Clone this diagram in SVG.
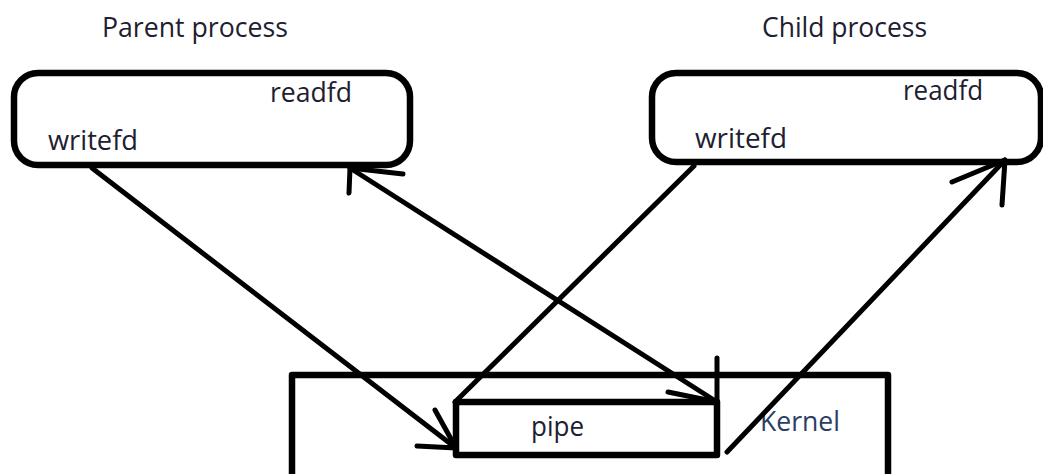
<svg xmlns="http://www.w3.org/2000/svg" width="1043" height="474" viewBox="0 0 1043 474">
  <style>
    .box { fill: none; stroke: #000; stroke-width: 6.5; stroke-linecap: round; stroke-linejoin: round; }
    .wire { fill: none; stroke: #000; stroke-width: 5; stroke-linecap: round; stroke-linejoin: round; }
    .lbl { font-family: "Open Sans", "Noto Sans", sans-serif; font-size: 27px; fill: #1d2030; }
    .kern { fill: #2b3f66; }
  </style>
  <rect width="1043" height="474" fill="#fff"/>

  <g id="title-parent">
    <text class="lbl" x="102" y="37" textLength="186" lengthAdjust="spacingAndGlyphs">Parent process</text>
  </g>
  <g id="title-child">
    <text class="lbl" x="762" y="37" textLength="165" lengthAdjust="spacingAndGlyphs">Child process</text>
  </g>

  <g id="parent">
    <rect class="box" x="14" y="73" width="396" height="92" rx="24"/>
    <text class="lbl" x="270" y="102" textLength="82" lengthAdjust="spacingAndGlyphs">readfd</text>
    <text class="lbl" x="48" y="150" textLength="90" lengthAdjust="spacingAndGlyphs">writefd</text>
  </g>

  <g id="child">
    <rect class="box" x="652" y="73" width="389" height="89" rx="24"/>
    <text class="lbl" x="903" y="100" textLength="80" lengthAdjust="spacingAndGlyphs">readfd</text>
    <text class="lbl" x="695" y="148" textLength="92" lengthAdjust="spacingAndGlyphs">writefd</text>
  </g>

  <g id="kernel">
    <rect class="box" x="292" y="375" width="596" height="112"/>
    <text class="lbl kern" x="760" y="431" textLength="80" lengthAdjust="spacingAndGlyphs">Kernel</text>
  </g>

  <g id="pipe">
    <rect class="box" x="456" y="402" width="261" height="53"/>
    <text class="lbl" x="531" y="436" textLength="53" lengthAdjust="spacingAndGlyphs">pipe</text>
  </g>

  <g id="connectors">
    <!-- parent writefd into the pipe -->
    <path class="wire" d="M92 168 L456 448"/>
    <path class="wire" d="M435 410 L456 448 L417 446"/>
    <!-- pipe back up to parent readfd -->
    <path class="wire" d="M350 168 L717 402"/>
    <path class="wire" d="M349 193 L350 168 L403 174"/>
    <path class="wire" d="M717 358 L717 402 L668 392"/>
    <!-- child writefd into the pipe -->
    <path class="wire" d="M694 166 L455 402"/>
    <!-- pipe up to child readfd -->
    <path class="wire" d="M727 452 L1005 160"/>
    <path class="wire" d="M952 182 L1005 160 L1002 205"/>
  </g>
</svg>
